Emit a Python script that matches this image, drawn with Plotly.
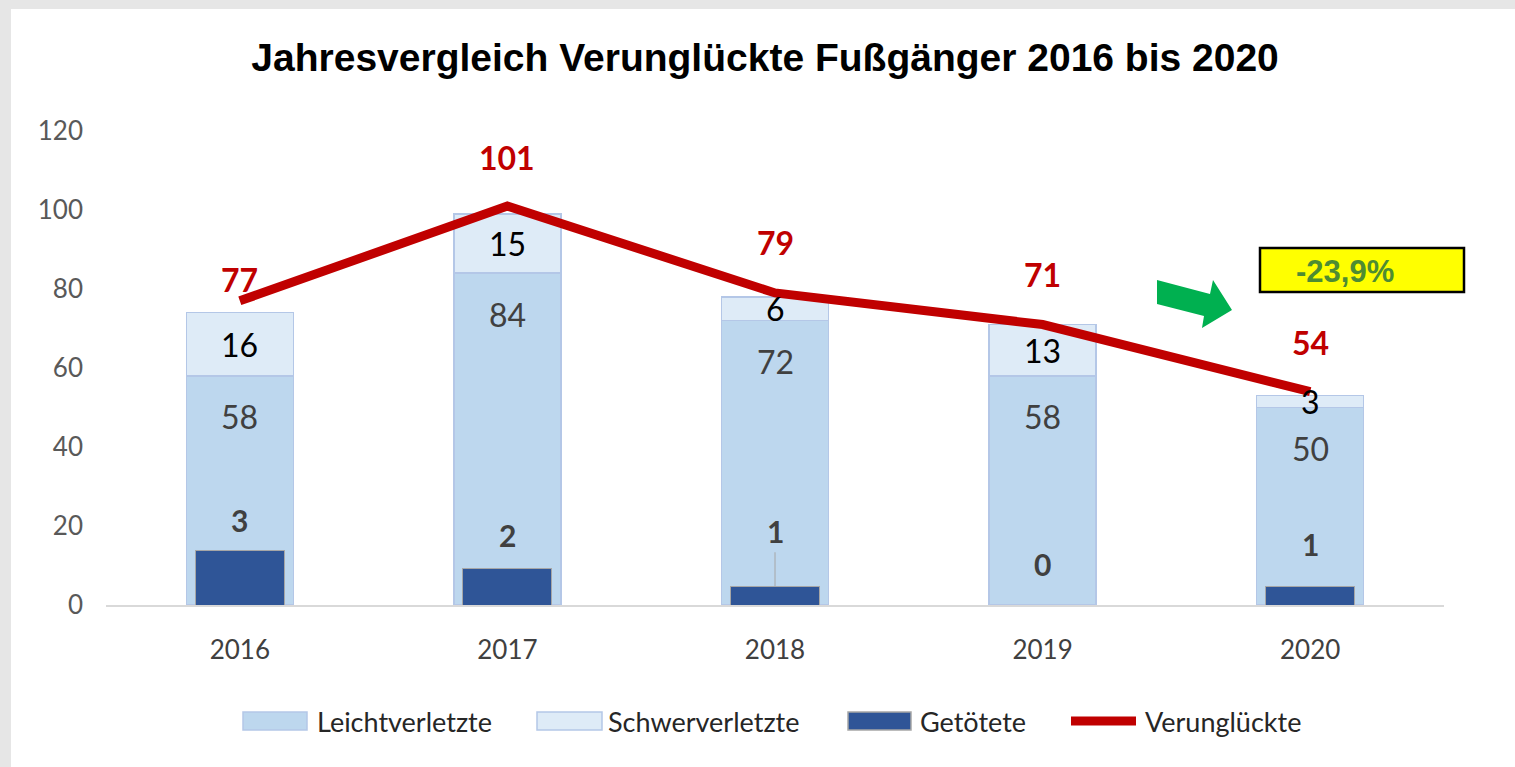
import plotly.graph_objects as go

# ---------------- data ----------------
jahre = ["2016", "2017", "2018", "2019", "2020"]
leichtverletzte = [58, 84, 72, 58, 50]
schwerverletzte = [16, 15, 6, 13, 3]
getoetete = [3, 2, 1, 0, 1]
verunglueckte = [77, 101, 79, 71, 54]
serien = ["Leichtverletzte", "Schwerverletzte", "Getötete", "Verunglückte"]
veraenderung_text = "-23,9%"
titel = "Jahresvergleich Verunglückte Fußgänger 2016 bis 2020"

# ---------------- style ----------------
W, H = 1515, 767
ML, MR, MT, MB = 106, 71, 131, 162
PW, PH = W - ML - MR, H - MT - MB
TITLEFONT = "Liberation Sans, Arial, sans-serif"
LABEL = "Lato, Carlito, Calibri, Open Sans, sans-serif"
C_LEICHT = "#bdd7ee"
C_SCHWER = "#deebf7"
C_EDGE = "#b4c7e7"
C_TOT = "#2f5597"
C_LINE = "#c00000"
line_label_shift = [21, 49, 50, 50, 49]
tot_label_shift = [30, 34, 56, 41, 43]


def px(x, y):
    return (x - ML) / PW, (MT + PH - y) / PH


fig = go.Figure()
fig.add_trace(go.Bar(x=jahre, y=leichtverletzte, name=serien[0],
                     marker=dict(color=C_LEICHT, line=dict(color=C_EDGE, width=1.5)),
                     width=0.4, hoverinfo="skip"))
fig.add_trace(go.Bar(x=jahre, y=schwerverletzte, name=serien[1],
                     marker=dict(color=C_SCHWER, line=dict(color=C_EDGE, width=1.5)),
                     width=0.4, hoverinfo="skip"))
fig.add_trace(go.Bar(x=jahre, y=getoetete, name=serien[2], yaxis="y2",
                     marker=dict(color=C_TOT, line=dict(color="#a6a6a6", width=1)),
                     width=0.333, hoverinfo="skip"))
fig.add_trace(go.Scatter(x=jahre, y=verunglueckte, name=serien[3], mode="lines",
                         line=dict(color=C_LINE, width=9), hoverinfo="skip"))

ann = []
for i, j in enumerate(jahre):
    ann.append(dict(x=i, y=leichtverletzte[i], xref="x", yref="y", text=str(leichtverletzte[i]),
                    showarrow=False, yshift=-41, yanchor="middle",
                    font=dict(family=LABEL, size=32, color="#404040")))
    ann.append(dict(x=i, y=leichtverletzte[i] + schwerverletzte[i] / 2, xref="x", yref="y",
                    text=str(schwerverletzte[i]), showarrow=False, yanchor="middle",
                    font=dict(family=LABEL, size=32, color="#000000")))
    ann.append(dict(x=i, y=verunglueckte[i], xref="x", yref="y", text="<b>%d</b>" % verunglueckte[i],
                    showarrow=False, yshift=line_label_shift[i], yanchor="middle",
                    font=dict(family=LABEL, size=32, color=C_LINE)))
    if i == 2:
        ann.append(dict(x=i, y=getoetete[i], xref="x", yref="y2", text="<b>%d</b>" % getoetete[i],
                        showarrow=True, arrowhead=0, arrowwidth=1, arrowcolor="#a6a6a6",
                        ax=0, ay=-tot_label_shift[i], standoff=0, startstandoff=2,
                        font=dict(family=LABEL, size=30, color="#404040")))
    else:
        ann.append(dict(x=i, y=getoetete[i], xref="x", yref="y2", text="<b>%d</b>" % getoetete[i],
                        showarrow=False, yshift=tot_label_shift[i], yanchor="middle",
                        font=dict(family=LABEL, size=30, color="#404040")))

# change box
bx0, by0 = px(1260, 292)
bx1, by1 = px(1464, 248)
tx, ty = px(1345, 271)
ann.append(dict(x=tx, y=ty, xref="paper", yref="paper", text="<b>%s</b>" % veraenderung_text,
                showarrow=False, xanchor="center", yanchor="middle",
                font=dict(family="Liberation Sans, Arial, sans-serif", size=31, color="#4e8c32")))

# green arrow
arrow_pts = [(1157, 280), (1210, 294), (1213, 280), (1232, 310), (1202, 328), (1204, 316), (1157, 304)]
path = ""
for k, (ax_, ay_) in enumerate(arrow_pts):
    pxx, pyy = px(ax_, ay_)
    path += ("M" if k == 0 else "L") + "%.5f,%.5f " % (pxx, pyy)
path += "Z"

lx0, ly0 = px(0, H)
lx1, ly1 = px(11, 0)
tx0, ty0 = px(0, 9)
tx1, ty1 = px(W, 0)
shapes = [
    dict(type="rect", xref="paper", yref="paper", x0=lx0, y0=ly0, x1=lx1, y1=ly1,
         fillcolor="#e6e6e6", line=dict(width=0), layer="below"),
    dict(type="rect", xref="paper", yref="paper", x0=tx0, y0=ty0, x1=tx1, y1=ty1,
         fillcolor="#e6e6e6", line=dict(width=0), layer="below"),
    dict(type="path", xref="paper", yref="paper", path=path, fillcolor="#00b050",
         line=dict(width=0)),
    dict(type="rect", xref="paper", yref="paper", x0=bx0, y0=by0, x1=bx1, y1=by1,
         fillcolor="#ffff00", line=dict(color="#000000", width=2.5), layer="below"),
]

# legend (drawn to match the wide swatches of the original)
leg_swatch_x = [243, 537, 848, 1068]
leg_swatch_w = [64, 65, 63, 70]
leg_text_x = [315, 606, 918, 1143]
leg_y = 721
leg_fill = [C_LEICHT, C_SCHWER, C_TOT, None]
leg_edge = [C_EDGE, C_EDGE, "#a6a6a6", None]
for k, name in enumerate(serien):
    xa, ya = px(leg_swatch_x[k], leg_y + 9)
    xb, yb = px(leg_swatch_x[k] + leg_swatch_w[k], leg_y - 9)
    if leg_fill[k] is not None:
        shapes.append(dict(type="rect", xref="paper", yref="paper", x0=xa, y0=ya, x1=xb, y1=yb,
                           fillcolor=leg_fill[k], line=dict(color=leg_edge[k], width=1.5)))
    else:
        xa2, ym = px(leg_swatch_x[k] + 3, leg_y)
        xb2, _ = px(leg_swatch_x[k] + leg_swatch_w[k] - 2, leg_y)
        shapes.append(dict(type="line", xref="paper", yref="paper", x0=xa2, y0=ym, x1=xb2, y1=ym,
                           line=dict(color=C_LINE, width=9)))
    txx, tyy = px(leg_text_x[k], leg_y)
    ann.append(dict(x=txx, y=tyy, xref="paper", yref="paper", text=name, showarrow=False,
                    xanchor="left", yanchor="middle",
                    font=dict(family=LABEL, size=27, color="#262626")))

fig.update_layout(
    width=W, height=H,
    margin=dict(l=ML, r=MR, t=MT, b=MB),
    paper_bgcolor="white", plot_bgcolor="white",
    barmode="stack",
    title=dict(text="<b>%s</b>" % titel, x=0.505, xanchor="center", y=1 - 57 / H, yanchor="middle",
               xref="container", yref="container",
               font=dict(family=TITLEFONT, size=39, color="#000000")),
    xaxis=dict(type="category", range=[-0.5, 4.5], showgrid=False, showline=True,
               linecolor="#d9d9d9", linewidth=2, ticks="", zeroline=False,
               tickfont=dict(family=LABEL, size=26, color="#404040"), ticklabelstandoff=21),
    yaxis=dict(range=[0, 120], dtick=20, showgrid=False, showline=False, zeroline=False,
               ticks="", tickfont=dict(family=LABEL, size=26, color="#595959"),
               ticklabelstandoff=22),
    yaxis2=dict(range=[0, 26], overlaying="y", side="right", visible=False, showgrid=False),
    showlegend=False,
    annotations=ann,
    shapes=shapes,
)

fig.write_html("out.html", config={"displayModeBar": False},
               post_script="document.body.style.margin='0';")
